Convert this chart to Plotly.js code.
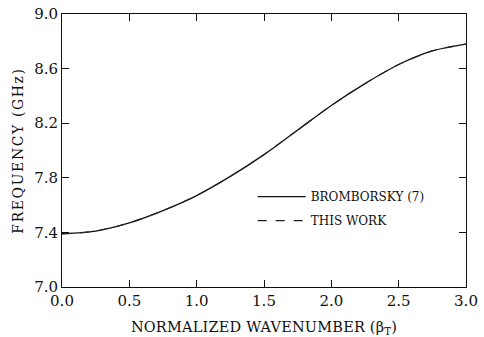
<!DOCTYPE html>
<html>
<head>
<meta charset="utf-8">
<script src="https://cdn.plot.ly/plotly-3.0.1.min.js"></script>
<style>
html,body{margin:0;padding:0;background:#fff;}
#chart{width:484px;height:337px;}
#chart .ytitle{letter-spacing:1.6px;}
#chart .xtitle{letter-spacing:0.2px;}
</style>
</head>
<body>
<div id="chart"></div>
<script>
const beta = [0, 0.25, 0.5, 0.75, 1.0, 1.25, 1.5, 1.75, 2.0, 2.25, 2.5, 2.75, 3.0];
const bromborsky = [7.39, 7.41, 7.47, 7.56, 7.67, 7.81, 7.97, 8.15, 8.33, 8.49, 8.63, 8.73, 8.78];
const thisWork = [7.39, 7.41, 7.47, 7.56, 7.67, 7.81, 7.97, 8.15, 8.33, 8.49, 8.63, 8.73, 8.78];
const xTicks = [0, 0.5, 1.0, 1.5, 2.0, 2.5, 3.0];
const xTickText = ['0.0', '0.5', '1.0', '1.5', '2.0', '2.5', '3.0'];
const yTicks = [7.0, 7.4, 7.8, 8.2, 8.6, 9.0];
const yTickText = ['7.0', '7.4', '7.8', '8.2', '8.6', '9.0'];

const FAM = '"DejaVu Serif", serif';
const font = {family: FAM, color: '#111', size: 15};
const traces = [
  {x: beta, y: bromborsky, name: 'BROMBORSKY (7)', mode: 'lines', legendgroup: 'a',
   line: {color: '#111', width: 1.3, dash: 'solid', shape: 'spline', smoothing: 0.8}},
  {x: beta, y: thisWork, name: 'THIS WORK', mode: 'lines', legendgroup: 'b',
   line: {color: '#222', width: 1.1, dash: 'dash', shape: 'spline', smoothing: 0.8}}
];
const axisCommon = {showgrid: false, zeroline: false, showline: true, linecolor: '#111', linewidth: 1,
  mirror: 'ticks', ticks: 'inside', ticklen: 7, tickcolor: '#111', tickwidth: 1, tickfont: font};
const layout = {
  width: 484, height: 337,
  margin: {l: 62, r: 18, t: 14, b: 50},
  paper_bgcolor: '#fff', plot_bgcolor: '#fff',
  font: font,
  showlegend: true,
  legend: {x: 0.472, y: 0.384, xanchor: 'left', yanchor: 'top', bgcolor: 'rgba(0,0,0,0)',
    itemwidth: 48, tracegroupgap: 5,
    font: {family: FAM, size: 12, color: '#111'}},
  xaxis: Object.assign({}, axisCommon, {range: [0, 3.0], tickvals: xTicks, ticktext: xTickText,
    title: {text: 'NORMALIZED WAVENUMBER (β<sub>T</sub>)', font: {family: FAM, size: 14.5, color: '#111'}, standoff: 12}}),
  yaxis: Object.assign({}, axisCommon, {range: [7.0, 9.0], tickvals: yTicks, ticktext: yTickText,
    title: {text: 'FREQUENCY (GHz)', font: {family: FAM, size: 14, color: '#111'}, standoff: 7}})
};
Plotly.newPlot('chart', traces, layout, {displayModeBar: false, staticPlot: true});
</script>
</body>
</html>
